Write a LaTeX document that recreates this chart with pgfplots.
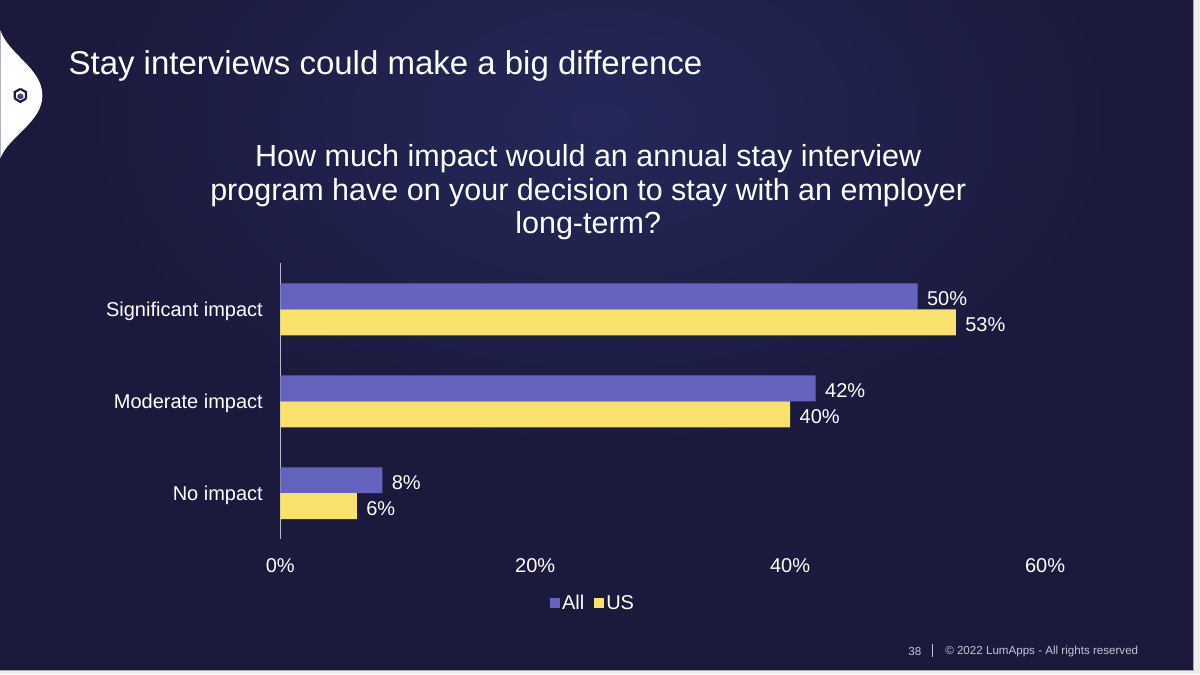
\documentclass[border=0pt]{standalone}
\usepackage{pgfplots}
\pgfplotsset{compat=1.18}
\usepackage{fontspec}
\setmainfont{Liberation Sans}
\definecolor{bgdark}{HTML}{1B1A3D}
\definecolor{bglight}{HTML}{242859}
\definecolor{edge}{HTML}{EEEDEB}
\definecolor{cAll}{HTML}{6464BE}
\definecolor{cUS}{HTML}{F8E16C}
\definecolor{axgray}{HTML}{B8B8D0}
\definecolor{foot}{HTML}{C4C4D4}
\begin{document}
\begin{tikzpicture}[x=1pt,y=1pt]
% background
\fill[edge] (0,0) rectangle (1200,-674);
\fill[bgdark] (0,0) rectangle (1193,-670);
\begin{scope}
\clip (0,0) rectangle (1193,-670);
\shade[inner color=bglight, outer color=bgdark] (600,-120) ellipse (520 and 330);
\end{scope}
\draw[gray!70, line width=0.8pt] (1193,0) -- (1193,-670) -- (0,-670);
% left white shape
\fill[white] (0,-30) .. controls (8,-54) and (42,-68) .. (42,-95)
  .. controls (42,-122) and (8,-136) .. (0,-158) -- cycle;
% logo
\begin{scope}[shift={(20,-95)}]
\draw[bgdark, line width=2.2pt] (90:6.5) -- (150:6.5) -- (210:6.5);
\draw[bgdark, line width=2.2pt] (90:6.5) -- (30:6.5) -- (-30:6.5);
\draw[bgdark, line width=2.2pt] (210:6.5) -- (270:6.5) -- (330:6.5);
\fill[bgdark!80] (0,2) -- (3,0.5) -- (3,-2.5) -- (0,-4) -- (-3,-2.5) -- (-3,0.5) -- cycle;
\end{scope}
% titles
\node[anchor=west, text=white, font=\fontsize{33}{38}\selectfont, inner sep=0pt] at (68,-66) {Stay interviews could make a big difference};
\node[anchor=center, text=white, align=center, font=\fontsize{30.5}{33.5}\selectfont, inner sep=0pt] at (588,-192)
  {How much impact would an annual stay interview\\program have on your decision to stay with an employer\\long-term?};
% footer
\node[anchor=west, text=foot, font=\fontsize{11.6}{14}\selectfont, inner sep=0pt] at (908,-651) {38};
\draw[foot, line width=0.8pt] (932,-644) -- (932,-657);
\node[anchor=west, text=foot, font=\fontsize{11.6}{14}\selectfont, inner sep=0pt] at (945,-651) {\textcopyright\ 2022 LumApps - All rights reserved};
\begin{axis}[
  at={(280pt,-539pt)}, anchor=south west,
  scale only axis, width=765pt, height=276pt,
  xmin=0, xmax=60, ymin=-0.5, ymax=2.5,
  y dir=reverse,
  xbar, bar width=26pt,
  axis x line*=bottom,
  axis y line*=left,
  x axis line style={draw=none},
  y axis line style={draw=axgray, line width=0.8pt, -},
  xtick={0,20,40,60},
  xticklabels={0\%,20\%,40\%,60\%},
  ytick={0,1,2},
  yticklabels={Significant impact,Moderate impact,No impact},
  major tick length=0pt,
  tick label style={text=white, font=\fontsize{20}{24}\selectfont},
  /pgf/number format/assume math mode=true,
  yticklabel style={xshift=-14pt, yshift=-2pt},
  xticklabel style={yshift=-16pt},
  nodes near coords={\pgfmathprintnumber{\pgfplotspointmeta}\%},
  nodes near coords style={anchor=west, text=white, font=\fontsize{20}{24}\selectfont, xshift=6pt, yshift=-2pt},
  legend style={at={(0.409,-0.232)}, anchor=center, draw=none, fill=none,
    text=white, font=\fontsize{20}{24}\selectfont, legend columns=2,
    /tikz/every even column/.append style={column sep=8pt}},
  legend image code/.code={\fill[#1, draw=none] (0pt,-5pt) rectangle (10pt,5pt);},
  clip=false,
]
\addplot[fill=cAll, draw=none, bar shift=13pt] coordinates {(50,0) (42,1) (8,2)};
\addplot[fill=cUS, draw=none, bar shift=-13pt] coordinates {(53,0) (40,1) (6,2)};
\legend{All,US}
\end{axis}
\end{tikzpicture}
\end{document}
